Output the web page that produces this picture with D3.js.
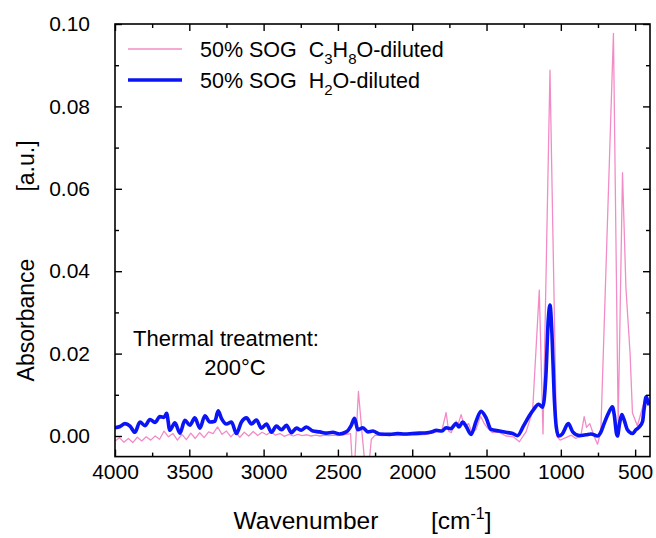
<!DOCTYPE html>
<html>
<head>
<meta charset="utf-8">
<script src="https://cdn.jsdelivr.net/npm/d3@7/dist/d3.min.js"></script>
<style>
  html, body { margin: 0; padding: 0; background: #fff; }
  svg { display: block; font-family: "Liberation Sans", Arial, sans-serif; }
</style>
</head>
<body>
<svg id="chart" width="656" height="538"></svg>
<script>
// FTIR spectra of spin-on-glass films after 200 °C treatment
// Wavenumbers in cm^-1, absorbance in a.u.

const xTickValues = [4000, 3500, 3000, 2500, 2000, 1500, 1000, 500];
const yTickValues = [0.00, 0.02, 0.04, 0.06, 0.08, 0.10];

// C3H8O-diluted film
const propanolWavenumber = [
  4000, 3970, 3940, 3910, 3880, 3850, 3820, 3790, 3760, 3730,
  3700, 3670, 3640, 3610, 3580, 3550, 3520, 3490, 3460, 3430,
  3400, 3370, 3340, 3310, 3280, 3250, 3220, 3190, 3160, 3130,
  3100, 3070, 3040, 3010, 2980, 2950, 2920, 2890, 2860, 2830,
  2800, 2770, 2740, 2710, 2680, 2650, 2620, 2590, 2560, 2530,
  2500, 2470, 2440, 2415, 2395, 2362, 2335, 2305, 2275, 2250,
  2200, 2150, 2100, 2050, 2000, 1950, 1900, 1860, 1830, 1800,
  1772, 1755, 1738, 1705, 1690, 1671, 1649, 1620, 1600, 1570,
  1540, 1515, 1490, 1459, 1420, 1369, 1320, 1279, 1250, 1234,
  1190, 1145, 1120, 1073, 1029, 1005, 966, 930, 899, 865,
  843, 827, 805, 775, 753, 731, 646, 614, 585, 562,
  534, 518, 485, 440, 426, 413, 400
];
const propanolAbsorbance = [
  -0.0012, -0.0004, -0.0015, -0.0006, -0.0016, -0.0003, -0.0012, -0.0002, -0.0010, 0.0000,
  -0.0008, 0.0012, -0.0002, 0.0006, -0.0010, 0.0004, -0.0009, 0.0007, -0.0006, 0.0008,
  -0.0004, 0.0010, 0.0006, 0.0022, 0.0004, 0.0012, -0.0002, 0.0010, -0.0003, 0.0009,
  0.0000, 0.0011, 0.0001, 0.0009, 0.0003, 0.0010, 0.0002, 0.0006, -0.0001, 0.0004,
  0.0000, 0.0004, 0.0001, 0.0003, 0.0000, 0.0002, 0.0000, 0.0002, 0.0001, 0.0002,
  0.0001, 0.0003, 0.0004, 0.0006, -0.0120, 0.0108, -0.0004, -0.0120, -0.0008, 0.0002,
  0.0001, 0.0002, 0.0001, 0.0002, 0.0002, 0.0003, 0.0004, 0.0008, 0.0010, 0.0014,
  0.0057, 0.0012, 0.0008, 0.0036, 0.0030, 0.0052, 0.0024, 0.0030, 0.0010, 0.0016,
  0.0048, 0.0030, 0.0018, 0.0008, 0.0010, 0.0000, -0.0002, -0.0014, 0.0002, 0.0010,
  0.0060, 0.0354, 0.0005, 0.0888, 0.0000, -0.0010, -0.0004, 0.0002, -0.0006, 0.0001,
  0.0047, 0.0021, 0.0030, -0.0002, -0.0020, 0.0010, 0.0977, 0.0026, 0.0639, 0.0360,
  0.0200, 0.0056, 0.0025, 0.0082, 0.0095, 0.0080, 0.0070
];

// H2O-diluted film
const waterWavenumber = [
  4000, 3966, 3933, 3899, 3866, 3832, 3798, 3765, 3731, 3698,
  3670, 3653, 3631, 3597, 3563, 3530, 3496, 3463, 3429, 3395,
  3362, 3328, 3306, 3283, 3250, 3216, 3183, 3149, 3115, 3082,
  3048, 3015, 2981, 2947, 2914, 2880, 2846, 2813, 2779, 2746,
  2712, 2668, 2623, 2578, 2534, 2489, 2444, 2410, 2388, 2366,
  2332, 2298, 2265, 2220, 2150, 2100, 2050, 2000, 1950, 1900,
  1860, 1839, 1800, 1772, 1740, 1705, 1685, 1660, 1638, 1604,
  1570, 1537, 1503, 1470, 1414, 1370, 1324, 1291, 1250, 1212,
  1180, 1150, 1122, 1100, 1085, 1073, 1060, 1045, 1030, 1015,
  990, 950, 920, 876, 830, 797, 753, 730, 708, 680,
  653, 640, 625, 619, 605, 590, 575, 552, 518, 495,
  472, 450, 440, 426, 415, 406
];
const waterAbsorbance = [
  0.0020, 0.0023, 0.0030, 0.0024, 0.0009, 0.0034, 0.0025, 0.0040, 0.0033, 0.0047,
  0.0045, 0.0055, 0.0014, 0.0032, 0.0007, 0.0038, 0.0026, 0.0044, 0.0019, 0.0049,
  0.0034, 0.0036, 0.0061, 0.0042, 0.0029, 0.0034, 0.0006, 0.0034, 0.0044, 0.0029,
  0.0039, 0.0019, 0.0029, 0.0009, 0.0024, 0.0015, 0.0026, 0.0008, 0.0019, 0.0014,
  0.0022, 0.0012, 0.0010, 0.0007, 0.0009, 0.0005, 0.0010, 0.0026, 0.0043, 0.0015,
  0.0020, 0.0010, 0.0012, 0.0005, 0.0004, 0.0006, 0.0005, 0.0006, 0.0007, 0.0008,
  0.0011, 0.0014, 0.0012, 0.0020, 0.0018, 0.0030, 0.0022, 0.0034, 0.0024, 0.0004,
  0.0036, 0.0060, 0.0044, 0.0016, 0.0012, 0.0009, 0.0006, 0.0001, 0.0025, 0.0049,
  0.0066, 0.0077, 0.0070, 0.0150, 0.0280, 0.0318, 0.0250, 0.0100, 0.0020, 0.0000,
  0.0005, 0.0030, 0.0010, 0.0001, 0.0003, 0.0005, 0.0000, 0.0010, 0.0031, 0.0055,
  0.0071, 0.0050, 0.0005, 0.0000, 0.0030, 0.0052, 0.0040, 0.0015, 0.0006, 0.0015,
  0.0022, 0.0035, 0.0065, 0.0095, 0.0085, 0.0075
];

const pink = "#f28cc6";
const blue = "#0a14f5";

const svg = d3.select("#chart");
const plot = { left: 115, top: 24, right: 650, bottom: 456.6 };

const x = d3.scaleLinear().domain([4000, 400]).range([plot.left, plot.right]);
const y = d3.scaleLinear().domain([-0.005, 0.10]).range([plot.bottom, plot.top]);

svg.append("defs").append("clipPath").attr("id", "plotArea")
  .append("rect")
  .attr("x", plot.left).attr("y", plot.top)
  .attr("width", plot.right - plot.left).attr("height", plot.bottom - plot.top);

const propanol = propanolWavenumber.map((w, i) => ({ w, a: propanolAbsorbance[i] }));
const water = waterWavenumber.map((w, i) => ({ w, a: waterAbsorbance[i] }));

const lines = svg.append("g").attr("clip-path", "url(#plotArea)");

lines.append("path")
  .datum(propanol)
  .attr("fill", "none")
  .attr("stroke", pink)
  .attr("stroke-width", 1.3)
  .attr("stroke-linejoin", "round")
  .attr("d", d3.line().x(d => x(d.w)).y(d => y(d.a)));

lines.append("path")
  .datum(water)
  .attr("fill", "none")
  .attr("stroke", blue)
  .attr("stroke-width", 3.6)
  .attr("stroke-linejoin", "round")
  .attr("d", d3.line().curve(d3.curveMonotoneX).x(d => x(d.w)).y(d => y(d.a)));

// Axes: ticks point inward on all four sides
const xMinor = d3.range(4000, 499, -250);
const yMinor = d3.range(0, 0.1001, 0.01);
const isMajorX = d => xTickValues.includes(d);
const isMajorY = d => yTickValues.some(v => Math.abs(v - d) < 1e-9);
const tickStyle = g => {
  g.select(".domain").remove();
  g.selectAll(".tick line").attr("stroke", "#000").attr("stroke-width", 1.4);
};

svg.append("g").attr("transform", `translate(0,${plot.bottom})`)
  .call(d3.axisBottom(x).tickValues(xMinor).tickSize(-6).tickPadding(7)
    .tickFormat(d => (isMajorX(d) ? d3.format("d")(d) : "")))
  .call(tickStyle)
  .call(g => g.selectAll(".tick line").attr("y2", d => (isMajorX(d) ? -7 : -4)))
  .call(g => g.selectAll(".tick text").attr("font-size", 21).attr("fill", "#000"));

svg.append("g").attr("transform", `translate(0,${plot.top})`)
  .call(d3.axisTop(x).tickValues(xMinor).tickSize(-6).tickFormat(""))
  .call(tickStyle)
  .call(g => g.selectAll(".tick line").attr("y2", d => (isMajorX(d) ? 7 : 4)));

const fmt = d3.format(".2f");
svg.append("g").attr("transform", `translate(${plot.left},0)`)
  .call(d3.axisLeft(y).tickValues(yMinor).tickSize(-6).tickPadding(25)
    .tickFormat(d => (isMajorY(d) ? fmt(d) : "")))
  .call(tickStyle)
  .call(g => g.selectAll(".tick line").attr("x2", d => (isMajorY(d) ? 7 : 4)))
  .call(g => g.selectAll(".tick text").attr("font-size", 21).attr("fill", "#000"));

svg.append("g").attr("transform", `translate(${plot.right},0)`)
  .call(d3.axisRight(y).tickValues(yMinor).tickSize(-6).tickFormat(""))
  .call(tickStyle)
  .call(g => g.selectAll(".tick line").attr("x2", d => (isMajorY(d) ? -7 : -4)));

svg.append("rect")
  .attr("x", plot.left).attr("y", plot.top)
  .attr("width", plot.right - plot.left).attr("height", plot.bottom - plot.top)
  .attr("fill", "none").attr("stroke", "#000").attr("stroke-width", 1.6);

// Axis titles
const yTitle = svg.append("g").attr("transform", "translate(34,0)");
yTitle.append("text").attr("transform", "translate(0,320) rotate(-90)")
  .attr("text-anchor", "middle").attr("font-size", 23).text("Absorbance");
yTitle.append("text").attr("transform", "translate(0,166) rotate(-90)")
  .attr("text-anchor", "middle").attr("font-size", 23).text("[a.u.]");

svg.append("text").attr("x", 306).attr("y", 529).attr("text-anchor", "middle")
  .attr("font-size", 24.5).text("Wavenumber");
const unit = svg.append("text").attr("x", 431).attr("y", 529).attr("font-size", 24.5);
unit.append("tspan").text("[cm");
unit.append("tspan").attr("dy", -10).attr("font-size", 16).text("-1");
unit.append("tspan").attr("dy", 10).text("]");

// Legend
const legend = svg.append("g");
const legendRows = [
  { color: pink, width: 1.3, y: 49, parts: [["50% SOG  C", 0], ["3", 1], ["H", 0], ["8", 1], ["O-diluted", 0]] },
  { color: blue, width: 3.6, y: 80, parts: [["50% SOG  H", 0], ["2", 1], ["O-diluted", 0]] }
];
legendRows.forEach(row => {
  legend.append("line").attr("x1", 128).attr("x2", 182).attr("y1", row.y).attr("y2", row.y)
    .attr("stroke", row.color).attr("stroke-width", row.width);
  const t = legend.append("text").attr("x", 200).attr("y", row.y + 8).attr("font-size", 21.5)
    .style("white-space", "pre");
  let shifted = 0;
  row.parts.forEach(([s, sub]) => {
    const dy = sub ? 7 - shifted : -shifted;
    shifted = sub ? 7 : 0;
    t.append("tspan").attr("dy", dy).attr("font-size", sub ? 15 : 21.5).text(s);
  });
});

// Annotation
svg.append("text").attr("x", 226).attr("y", 346).attr("text-anchor", "middle")
  .attr("font-size", 22).text("Thermal treatment:");
svg.append("text").attr("x", 235).attr("y", 375).attr("text-anchor", "middle")
  .attr("font-size", 22).text("200°C");
</script>
</body>
</html>
